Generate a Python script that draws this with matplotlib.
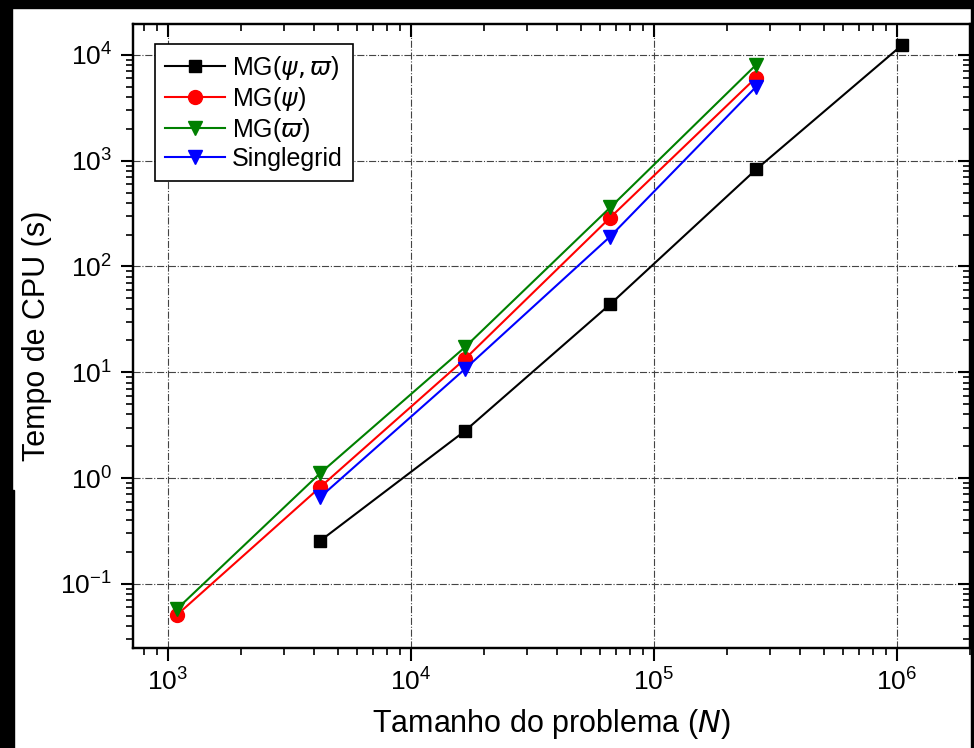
import matplotlib
matplotlib.use("Agg")
import matplotlib.pyplot as plt
from matplotlib.patches import Rectangle
from matplotlib.ticker import LogLocator, NullFormatter

plt.rcParams['font.family'] = ['Liberation Sans', 'DejaVu Sans']
plt.rcParams['axes.unicode_minus'] = False
plt.rcParams['axes.linewidth'] = 1.6
for k in ('xtick', 'ytick'):
    plt.rcParams[k + '.direction'] = 'out'
    plt.rcParams[k + '.major.size'] = 9
    plt.rcParams[k + '.major.width'] = 1.5
    plt.rcParams[k + '.minor.size'] = 5
    plt.rcParams[k + '.minor.width'] = 1.2
    plt.rcParams[k + '.minor.visible'] = True
    plt.rcParams[k + '.labelsize'] = 19
    plt.rcParams[k + '.major.pad'] = 6

# problem sizes N = (2^k + 1)^2
n_all = [1089, 4225, 16641, 66049, 263169, 1050625]

# CPU time (s)
t_mg_both = [0.255, 2.78, 44, 826, 12400]          # MG(psi, varpi), from N=4225
t_mg_psi = [0.051, 0.82, 13.3, 290, 6100]          # MG(psi)
t_mg_varpi = [0.058, 1.11, 17.2, 361, 8050]        # MG(varpi)
t_single = [0.66, 10.7, 192, 4990]                 # Singlegrid, from N=4225

xlim = (718, 2.0e6)
ylim = (0.0248, 1.96e4)
rect = [0.1366, 0.1337, 0.8594, 0.8343]

fig = plt.figure(figsize=(9.74, 7.48), dpi=100)
ax = fig.add_axes(rect)

ax.plot(n_all[1:], t_mg_both, color='black', marker='s', markersize=9, lw=1.5,
        label=r'MG($\psi,\varpi$)', zorder=5)
ax.plot(n_all[:5], t_mg_psi, color='red', marker='o', markersize=10, lw=1.5,
        label=r'MG($\psi$)', zorder=5)
ax.plot(n_all[:5], t_mg_varpi, color='green', marker='v', markersize=10, lw=1.5,
        label=r'MG($\varpi$)', zorder=5)
ax.plot(n_all[1:5], t_single, color='blue', marker='v', markersize=10, lw=1.5,
        label='Singlegrid', zorder=5)

ax.set_xscale('log')
ax.set_yscale('log')
ax.set_xlim(xlim)
ax.set_ylim(ylim)
for axis in (ax.xaxis, ax.yaxis):
    axis.set_minor_locator(LogLocator(base=10, subs=range(2, 10), numticks=20))
    axis.set_minor_formatter(NullFormatter())

ax.grid(True, which='major', linestyle='-.', color='#444444', lw=0.8)

ax.set_xlabel(r'Tamanho do problema ($N$)', fontsize=22, labelpad=8)
ax.set_ylabel('Tempo de CPU (s)', fontsize=22, labelpad=6)

leg = ax.legend(loc='upper left', bbox_to_anchor=(0.026, 0.968), fontsize=18,
                handlelength=2.4, handletextpad=0.3, labelspacing=0.12,
                borderpad=0.4, borderaxespad=0, fancybox=False, framealpha=1,
                edgecolor='black')
leg.get_frame().set_linewidth(1.2)

# overlay frame carrying the inward ticks on top and right
fr = fig.add_axes(rect, sharex=ax, sharey=ax)
fr.patch.set_visible(False)
fr.tick_params(which='both', direction='in', top=True, right=True,
               bottom=False, left=False, labelbottom=False, labelleft=False)

# black scan border
for x0, y0, w, h in [(0, 0.989, 1, 0.011), (0, 0.345, 0.012, 0.655),
                     (0, 0, 0.0144, 0.345), (0.997, 0, 0.003, 1)]:
    fig.add_artist(Rectangle((x0, y0), w, h, transform=fig.transFigure,
                             color='black', zorder=20))

fig.savefig('out.png', dpi=100)
